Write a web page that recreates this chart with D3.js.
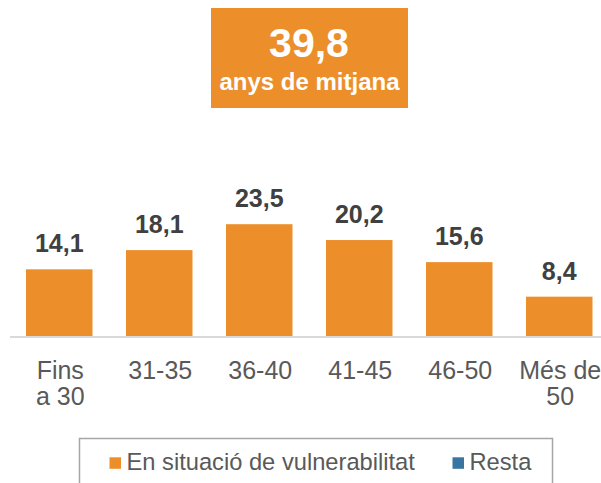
<!DOCTYPE html>
<html><head><meta charset="utf-8">
<script src="https://cdn.jsdelivr.net/npm/d3@7"></script>
<style>html,body{margin:0;padding:0;background:#fff;overflow:hidden}</style>
</head><body>
<svg id="c" width="601" height="483"></svg>
<script>
const categories = [["Fins","a 30"],["31-35"],["36-40"],["41-45"],["46-50"],["Més de","50"]];
const values = [14.1, 18.1, 23.5, 20.2, 15.6, 8.4];
const valueLabels = ["14,1","18,1","23,5","20,2","15,6","8,4"];
const headline = ["39,8", "anys de mitjana"];
const legendItems = ["En situació de vulnerabilitat", "Resta"];
const colors = ["#EC8F2B", "#3A75A1"];

const svg = d3.select("#c");
const font = "'Liberation Sans', Arial, sans-serif";
const keys = categories.map((c,i)=>"c"+i);
const x = d3.scaleBand().domain(keys).range([9.25, 609.25]).paddingInner(0.335).paddingOuter(0.1675);
const y = d3.scaleLinear().domain([0, 25]).range([337, 337 - 120]);

// headline box
svg.append("rect").attr("x",211).attr("y",8).attr("width",197).attr("height",100).attr("fill",colors[0]);
svg.append("text").attr("x",309).attr("y",56.5).attr("text-anchor","middle")
  .attr("font-family",font).attr("font-weight","bold").attr("font-size",41).attr("fill","#fff").text(headline[0]);
svg.append("text").attr("x",309.5).attr("y",89.5).attr("text-anchor","middle")
  .attr("font-family",font).attr("font-weight","bold").attr("font-size",24).attr("fill","#fff").text(headline[1]);

// bars
svg.selectAll("rect.bar").data(values).join("rect").attr("class","bar")
  .attr("x",(d,i)=>x(keys[i])).attr("width",x.bandwidth())
  .attr("y",d=>y(d)).attr("height",d=>y(0)-y(d)).attr("fill",colors[0]);

// axis line
const xAxis = d3.axisBottom(x).tickSize(0).tickFormat("");
const ag = svg.append("g").attr("transform","translate(0,337)").call(xAxis);
ag.select(".domain").attr("stroke","#D9D9D9").attr("stroke-width",2).attr("d","M10,0H601");

// value labels
svg.selectAll("text.val").data(values).join("text").attr("class","val")
  .attr("x",(d,i)=>x(keys[i])+x.bandwidth()/2).attr("y",d=>y(d)-17)
  .attr("text-anchor","middle").attr("font-family",font).attr("font-weight","bold")
  .attr("font-size",25).attr("fill","#404040").text((d,i)=>valueLabels[i]);

// category labels
categories.forEach((lines,i)=>{
  const t = svg.append("text").attr("text-anchor","middle").attr("font-family",font)
    .attr("font-size",25).attr("fill","#595959");
  lines.forEach((ln,j)=>{
    t.append("tspan").attr("x",x(keys[i])+x.bandwidth()/2+1).attr("y",378.5+j*26).text(ln);
  });
});

// legend
svg.append("rect").attr("x",79.5).attr("y",438.5).attr("width",473).attr("height",70)
  .attr("fill","none").attr("stroke","#A6A6A6").attr("stroke-width",1.5);
const legX = [109.5, 452.5];
legendItems.forEach((name,i)=>{
  svg.append("rect").attr("x",legX[i]).attr("y",457.3).attr("width",11.5).attr("height",11.5).attr("fill",colors[i]);
  svg.append("text").attr("x",legX[i]+17).attr("y",469.5).attr("font-family",font)
    .attr("font-size",23.7).attr("fill","#595959").text(name);
});
</script>
</body></html>
